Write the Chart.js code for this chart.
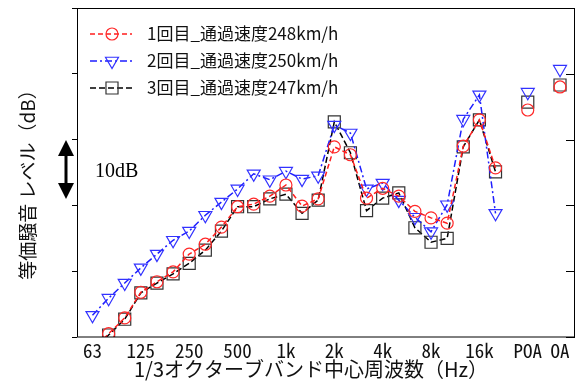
<!DOCTYPE html>
<html>
<head>
<meta charset="utf-8">
<script src="https://cdn.jsdelivr.net/npm/chart.js@4.4.0/dist/chart.umd.min.js"></script>
<style>
  html, body { margin: 0; padding: 0; background: #fff; }
  #wrap { width: 577px; height: 385px; }
</style>
</head>
<body>
<div id="wrap"><canvas id="c" width="577" height="385"></canvas></div>
<script>
// 1/3 octave bands (63 Hz - 20 kHz), then POA and OA as separate points
const bands = ['63', '80', '100', '125', '160', '200', '250', '315', '400', '500', '630', '800',
    '1k', '1.25k', '1.6k', '2k', '2.5k', '3.15k', '4k', '5k', '6.3k', '8k', '10k', '12.5k', '16k', '20k'];
const extraPos = [27, 29];               // POA, OA
const tickPos = [0, 3, 6, 9, 12, 15, 18, 21, 24, 27, 29];
const tickLabels = ['63', '125', '250', '500', '1k', '2k', '4k', '8k', '16k', 'POA', 'OA'];

const seriesNames = ['1回目_通過速度248km/h', '2回目_通過速度250km/h', '3回目_通過速度247km/h'];

const run1 = [28.0, 30.5, 32.9, 36.8, 38.4, 39.9, 42.6, 44.1, 46.7, 49.8, 50.2, 51.4, 53.1,
    49.9, 51.0, 58.9, 57.7, 51.1, 52.6, 51.4, 49.1, 48.1, 47.3, 59.0, 63.0, 55.7];
const run1Extra = [64.5, 68.0];

const run2 = [33.3, 35.9, 38.2, 40.5, 42.6, 44.7, 46.1, 48.5, 50.5, 52.5, 54.8, 53.9, 55.2,
    54.0, 54.5, 62.2, 61.0, 52.5, 53.4, 50.8, 48.2, 46.0, 50.1, 63.1, 66.8, 48.8];
const run2Extra = [67.2, 70.7];

const run3 = [28.0, 30.3, 32.7, 36.7, 38.2, 39.6, 41.2, 43.2, 46.1, 49.8, 49.8, 51.0, 51.7,
    48.8, 50.8, 62.7, 58.0, 49.2, 51.1, 51.9, 46.6, 44.4, 45.0, 58.9, 63.0, 55.1];
const run3Extra = [65.7, 68.3];

// band points, then gaps so POA / OA stand alone
function toPoints(vals, extra) {
    const pts = bands.map((b, i) => ({ x: i, y: vals[i] }));
    extraPos.forEach((p, k) => {
        pts.push({ x: p - 1, y: null });
        pts.push({ x: p, y: extra[k] });
    });
    return pts;
}

const JP = '"Noto Sans CJK JP", "Noto Sans", sans-serif';
const JP_MONO = '"Noto Sans Mono CJK JP", "Noto Sans CJK JP", sans-serif';

const styles = [
    { color: 'rgb(255,30,30)', pointColor: 'rgb(255,40,40)', style: 'circle', radius: 6, rotation: 0, dash: [5, 3] },
    { color: 'rgb(30,30,255)', pointColor: 'rgb(50,50,255)', style: 'triangle', radius: 7.5, rotation: 180, dash: [7, 3, 2, 3] },
    { color: '#000', pointColor: '#333', style: 'rect', radius: 8.5, rotation: 0, dash: [6, 3] }
];
const allRuns = [[run1, run1Extra], [run2, run2Extra], [run3, run3Extra]];

const datasets = allRuns.map((r, i) => ({
    label: seriesNames[i],
    data: toPoints(r[0], r[1]),
    borderColor: styles[i].color,
    borderWidth: 1.5,
    borderDash: styles[i].dash,
    backgroundColor: 'rgba(0,0,0,0)',
    pointStyle: styles[i].style,
    pointRadius: styles[i].radius,
    pointRotation: styles[i].rotation,
    pointBorderColor: styles[i].pointColor,
    pointBackgroundColor: 'rgba(0,0,0,0)',
    pointBorderWidth: 1.2,
    spanGaps: false,
    tension: 0,
    clip: 0
}));

// frame, legend, axis titles and the 10dB scale arrow
const decor = {
    id: 'decor',
    afterDraw(chart) {
        const { ctx, chartArea: a, scales } = chart;
        const y = scales.y;
        ctx.save();
        ctx.strokeStyle = '#000';
        ctx.lineWidth = 1;
        ctx.strokeRect(a.left + 0.5, a.top + 0.5, a.right - a.left - 1, a.bottom - a.top - 0.5);
        y.ticks.forEach(t => {
            const py = Math.round(y.getPixelForValue(t.value)) + 0.5;
            ctx.beginPath();
            ctx.moveTo(a.right - 9, py);
            ctx.lineTo(a.right, py);
            ctx.stroke();
        });

        // legend
        const rows = [34, 61, 88];
        chart.data.datasets.forEach((ds, i) => {
            const ly = rows[i];
            ctx.save();
            ctx.strokeStyle = ds.borderColor;
            ctx.lineWidth = 1.3;
            ctx.setLineDash(ds.borderDash);
            ctx.beginPath();
            ctx.moveTo(90, ly);
            ctx.lineTo(132, ly);
            ctx.stroke();
            ctx.restore();
            ctx.strokeStyle = ds.pointBorderColor;
            ctx.fillStyle = 'rgba(0,0,0,0)';
            ctx.lineWidth = 1.2;
            Chart.helpers.drawPoint(ctx, {
                pointStyle: ds.pointStyle, radius: ds.pointRadius,
                rotation: ds.pointRotation, borderWidth: 1.2
            }, 112, ly);
            ctx.fillStyle = '#111';
            ctx.font = '17px ' + JP;
            ctx.textAlign = 'left';
            ctx.textBaseline = 'middle';
            ctx.fillText(ds.label, 147, ly);
        });

        // y title
        ctx.save();
        ctx.translate(28, 180);
        ctx.rotate(-Math.PI / 2);
        ctx.fillStyle = '#111';
        ctx.font = '19px ' + JP;
        ctx.textAlign = 'center';
        ctx.textBaseline = 'middle';
        ctx.fillText('等価騒音 レベル（dB）', 0, 0);
        ctx.restore();

        // x title
        ctx.fillStyle = '#111';
        ctx.font = '20px ' + JP;
        ctx.textAlign = 'center';
        ctx.textBaseline = 'middle';
        ctx.fillText('1/3オクターブバンド中心周波数（Hz）', 311, 369);

        // 10 dB arrow
        ctx.fillStyle = '#000';
        ctx.strokeStyle = '#000';
        ctx.lineWidth = 3;
        ctx.beginPath();
        ctx.moveTo(66, 150);
        ctx.lineTo(66, 190);
        ctx.stroke();
        ctx.beginPath();
        ctx.moveTo(66, 140); ctx.lineTo(58, 156); ctx.lineTo(74, 156); ctx.closePath();
        ctx.fill();
        ctx.beginPath();
        ctx.moveTo(66, 199); ctx.lineTo(58, 183); ctx.lineTo(74, 183); ctx.closePath();
        ctx.fill();
        ctx.font = '20px "Liberation Serif", serif';
        ctx.textAlign = 'left';
        ctx.textBaseline = 'alphabetic';
        ctx.fillText('10dB', 95, 177);
        ctx.restore();
    }
};

new Chart(document.getElementById('c'), {
    type: 'line',
    data: { datasets: datasets },
    options: {
        responsive: false,
        animation: false,
        events: [],
        devicePixelRatio: 1,
        layout: { autoPadding: false, padding: { left: 0, right: 2, top: 8, bottom: 0 } },
        plugins: {
            legend: { display: false },
            title: { display: false },
            tooltip: { enabled: false }
        },
        scales: {
            x: {
                type: 'linear',
                min: -0.96,
                max: 29.93,
                grid: { display: false, drawTicks: false },
                border: { display: false },
                afterBuildTicks: scale => { scale.ticks = tickPos.map(v => ({ value: v })); },
                afterFit: scale => {
                    scale.height = 48;
                    scale.paddingLeft = 0;
                    scale.paddingRight = 0;
                },
                ticks: {
                    autoSkip: false,
                    maxRotation: 0,
                    padding: 2,
                    color: '#111',
                    font: { family: JP_MONO, size: 19 },
                    callback: v => tickLabels[tickPos.indexOf(v)]
                }
            },
            y: {
                min: 30,
                max: 80,
                grid: { display: true, drawOnChartArea: false, drawTicks: true, tickLength: 5, color: '#000' },
                border: { display: false },
                afterFit: scale => {
                    scale.width = 77;
                    scale.paddingTop = 0;
                    scale.paddingBottom = 0;
                },
                ticks: { display: false, stepSize: 10 }
            }
        }
    },
    plugins: [decor]
});
</script>
</body>
</html>
